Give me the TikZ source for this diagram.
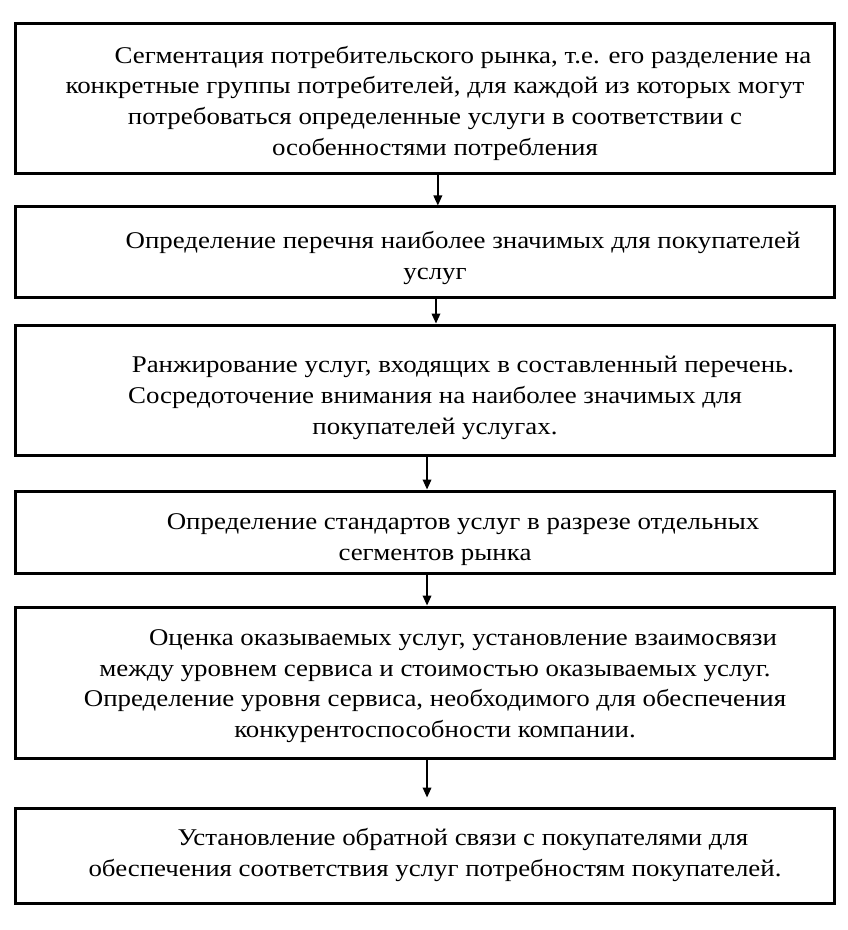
\documentclass[tikz,border=0pt]{standalone}
\usepackage{fontspec}
\setmainfont{Liberation Serif}[FakeStretch=1.12]
\usetikzlibrary{arrows.meta}
\tikzset{
  box/.style={draw=black, line width=2.25pt, minimum width=614.25pt, inner sep=0pt},
  txt/.style={align=center, inner sep=0pt, font=\fontsize{18pt}{23pt}\selectfont},
  arr/.style={draw=black, line width=1.1pt, -{Triangle[length=7.5pt,width=6.5pt]}}
}
\newcommand{\ind}{\hspace*{42pt}}
\begin{document}
\begin{tikzpicture}[x=0.75pt,y=-0.75pt]
\useasboundingbox (0,0) rectangle (848,930);
\fill[white] (0,0) rectangle (848,930);
\node[box, minimum height=112.5pt] (b1) at (424.5,99) {};
\node[box, minimum height=67.5pt] (b2) at (424.5,252) {};
\node[box, minimum height=97.5pt] (b3) at (424.5,390) {};
\node[box, minimum height=61.5pt] (b4) at (424.5,532) {};
\node[box, minimum height=113.25pt] (b5) at (424.5,682.5) {};
\node[box, minimum height=71.25pt] (b6) at (424.5,855.5) {};

\node[txt] (t1) at (435,103) {\ind Сегментация потребительского рынка, т.е. его разделение на\\конкретные группы потребителей, для каждой из которых могут\\потребоваться определенные услуги в соответствии с\\особенностями потребления};
\node[txt] (t2) at (435,258) {\ind Определение перечня наиболее значимых для покупателей\\услуг};
\node[txt] (t3) at (435,398) {\ind Ранжирование услуг, входящих в составленный перечень.\\Сосредоточение внимания на наиболее значимых для\\покупателей услугах.};
\node[txt] (t4) at (435,539.5) {\ind Определение стандартов услуг в разрезе отдельных\\сегментов рынка};
\node[txt] (t5) at (435,686) {\ind Оценка оказываемых услуг, установление взаимосвязи\\между уровнем сервиса и стоимостью оказываемых услуг.\\Определение уровня сервиса, необходимого для обеспечения\\конкурентоспособности компании.};
\node[txt] (t6) at (435,855) {\ind Установление обратной связи с покупателями для\\обеспечения соответствия услуг потребностям покупателей.};

\draw[arr] ([xshift=10pt]b1.south) -- ([xshift=10pt]b2.north);
\draw[arr] ([xshift=8.6pt]b2.south) -- ([xshift=8.6pt]b3.north);
\draw[arr] ([xshift=1.9pt]b3.south) -- ([xshift=1.9pt]b4.north);
\draw[arr] ([xshift=1.9pt]b4.south) -- ([xshift=1.9pt]b5.north);
\draw[arr] ([xshift=1.9pt]b5.south) -- ([xshift=1.9pt,yshift=6.75pt]b6.north);
\end{tikzpicture}
\end{document}
